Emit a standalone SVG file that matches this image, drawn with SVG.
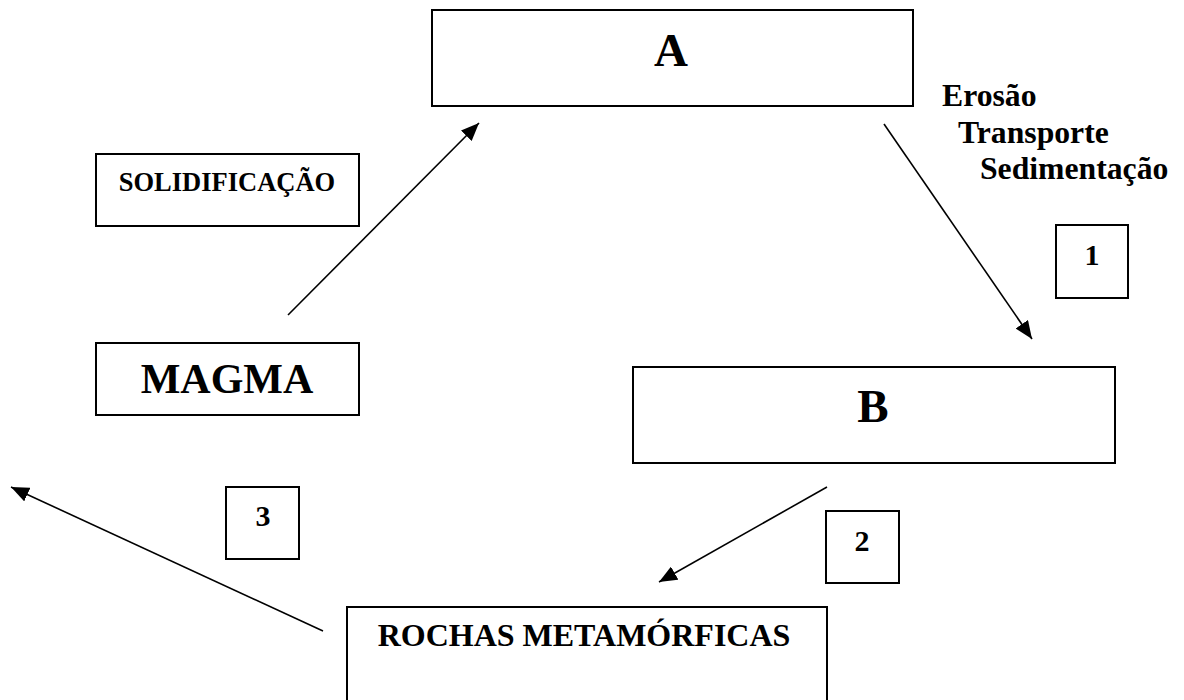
<svg xmlns="http://www.w3.org/2000/svg" width="1184" height="700" viewBox="0 0 1184 700">
<style>
.box{fill:#fff;stroke:#000;stroke-width:2}
.t{font-family:"Liberation Serif","Times New Roman",serif;font-weight:bold;fill:#000}
.c{stroke:#000;stroke-width:1.6;fill:none;marker-end:url(#ah)}
</style>
<defs>
<marker id="ah" markerUnits="userSpaceOnUse" markerWidth="19" markerHeight="15" refX="18" refY="7.5" orient="auto">
<path d="M0,0 L18,7.5 L0,15 z" fill="#000"/>
</marker>
</defs>
<rect width="1184" height="700" fill="#fff"/>
<g id="connectors">
<line class="c" x1="288" y1="315" x2="479" y2="123"/>
<line class="c" x1="884" y1="124" x2="1032" y2="339"/>
<line class="c" x1="827" y1="487" x2="659" y2="582"/>
<line class="c" x1="323" y1="631" x2="11" y2="487"/>
</g>
<g id="nodeA">
<rect class="box" x="432" y="10" width="481" height="96"/>
<text class="t" x="671" y="66" font-size="47" text-anchor="middle">A</text>
</g>
<g id="labelErosao">
<text class="t" x="942" y="106" font-size="31.7">Erosão</text>
<text class="t" x="958" y="143" font-size="31.7">Transporte</text>
<text class="t" x="980" y="179" font-size="31.7">Sedimentação</text>
</g>
<g id="solidificacao">
<rect class="box" x="96" y="154" width="263" height="72"/>
<text class="t" x="227" y="191" font-size="26.5" text-anchor="middle">SOLIDIFICAÇÃO</text>
</g>
<g id="magma">
<rect class="box" x="96" y="343" width="263" height="72"/>
<text class="t" x="227" y="393" font-size="42" text-anchor="middle">MAGMA</text>
</g>
<g id="nodeB">
<rect class="box" x="633" y="367" width="482" height="96"/>
<text class="t" x="873" y="422" font-size="47" text-anchor="middle">B</text>
</g>
<g id="num1">
<rect class="box" x="1056" y="225" width="72" height="73"/>
<text class="t" x="1092" y="265" font-size="30" text-anchor="middle">1</text>
</g>
<g id="num2">
<rect class="box" x="826" y="511" width="73" height="72"/>
<text class="t" x="862" y="551" font-size="30" text-anchor="middle">2</text>
</g>
<g id="num3">
<rect class="box" x="226" y="487" width="73" height="72"/>
<text class="t" x="263" y="526" font-size="30" text-anchor="middle">3</text>
</g>
<g id="rochas">
<rect class="box" x="347" y="607" width="480" height="110"/>
<text class="t" x="584" y="646" font-size="32" text-anchor="middle">ROCHAS METAMÓRFICAS</text>
</g>
</svg>
